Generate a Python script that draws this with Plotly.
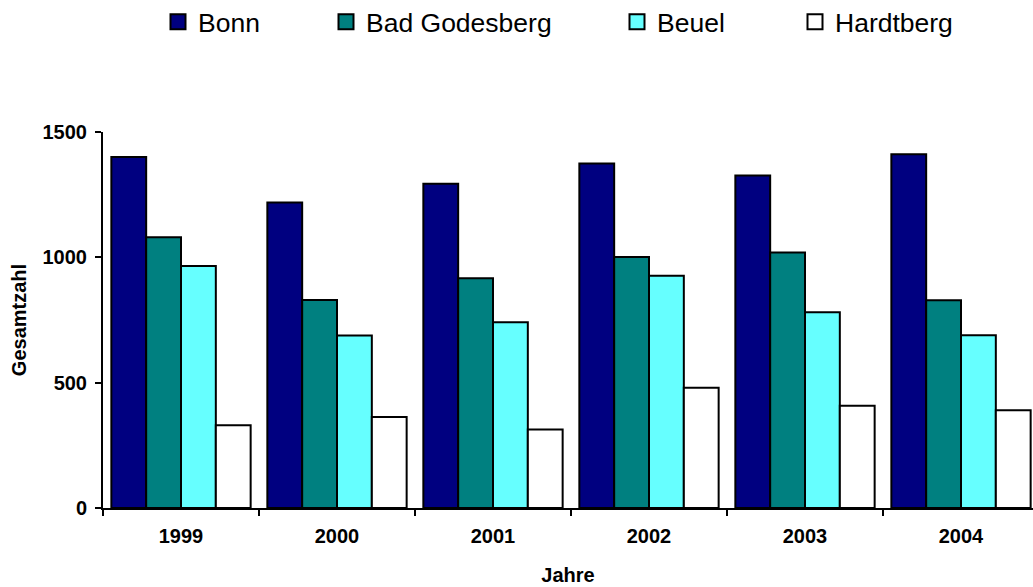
import plotly.graph_objects as go

# Jahre (Kategorien) und Gesamtzahlen je Stadtbezirk
jahre = ["1999", "2000", "2001", "2002", "2003", "2004"]
bonn = [1400, 1219, 1294, 1374, 1326, 1411]
bad_godesberg = [1080, 830, 917, 1001, 1019, 829]
beuel = [965, 688, 741, 927, 781, 689]
hardtberg = [330, 363, 313, 480, 408, 390]

y_ticks = [0, 500, 1000, 1500]

serien = [
    ("Bonn", bonn, "#000080"),
    ("Bad Godesberg", bad_godesberg, "#008080"),
    ("Beuel", beuel, "#66FFFF"),
    ("Hardtberg", hardtberg, "#FFFFFF"),
]

FONT = "Liberation Sans, Arial, sans-serif"
W, H = 1033, 587

fig = go.Figure()

for name, werte, farbe in serien:
    fig.add_trace(go.Bar(
        x=jahre, y=werte, name=name,
        marker=dict(color=farbe, line=dict(color="#000000", width=2)),
        showlegend=False, legendgroup=name,
    ))

# Legendeneinträge mit größeren quadratischen Symbolen, je eine eigene Legende
legend_ids = ["legend", "legend2", "legend3", "legend4"]
text_x = [198, 366, 657, 835]
for (name, werte, farbe), lid in zip(serien, legend_ids):
    fig.add_trace(go.Scatter(
        x=[None], y=[None], mode="markers", name=name,
        legend=lid, legendgroup=name,
        marker=dict(symbol="square", size=15, color=farbe,
                    line=dict(color="#000000", width=2)),
    ))

legend_layout = {}
for lid, tx in zip(legend_ids, text_x):
    legend_layout[lid] = dict(
        xref="container", yref="container",
        x=(tx - 40) / W, y=1 - 22 / H,
        xanchor="left", yanchor="middle",
        orientation="h", bgcolor="rgba(0,0,0,0)",
        font=dict(family=FONT, size=26.5, color="#000000"),
        itemsizing="trace",
    )

cat_px = 156.0
plot_left = 103
x_end = -0.5 + (W - plot_left) / cat_px

fig.update_layout(
    width=W, height=H,
    margin=dict(l=plot_left, r=0, t=132, b=79),
    paper_bgcolor="#FFFFFF", plot_bgcolor="#FFFFFF",
    barmode="group", bargap=0.107, bargroupgap=0,
    font=dict(family=FONT, color="#000000"),
    **legend_layout,
)

fig.update_xaxes(
    type="category", range=[-0.5, x_end],
    showline=True, linecolor="#000000", linewidth=2,
    ticks="outside", tickson="boundaries", ticklen=6, tickwidth=2, tickcolor="#000000",
    tickfont=dict(family=FONT, size=20, color="#000000", weight="bold"),
    ticklabelstandoff=9,
    showgrid=False, zeroline=False,
    title=dict(text="<b>Jahre</b>", font=dict(family=FONT, size=20, color="#000000"), standoff=22),
)

fig.update_yaxes(
    range=[0, 1500], tickvals=y_ticks,
    showline=True, linecolor="#000000", linewidth=2,
    ticks="outside", ticklen=6, tickwidth=2, tickcolor="#000000",
    tickfont=dict(family=FONT, size=20, color="#000000", weight="bold"),
    ticklabelstandoff=4,
    showgrid=False, zeroline=False,
    title=dict(text="<b>Gesamtzahl</b>", font=dict(family=FONT, size=20, color="#000000"), standoff=11),
)

fig.write_html("out.html")
